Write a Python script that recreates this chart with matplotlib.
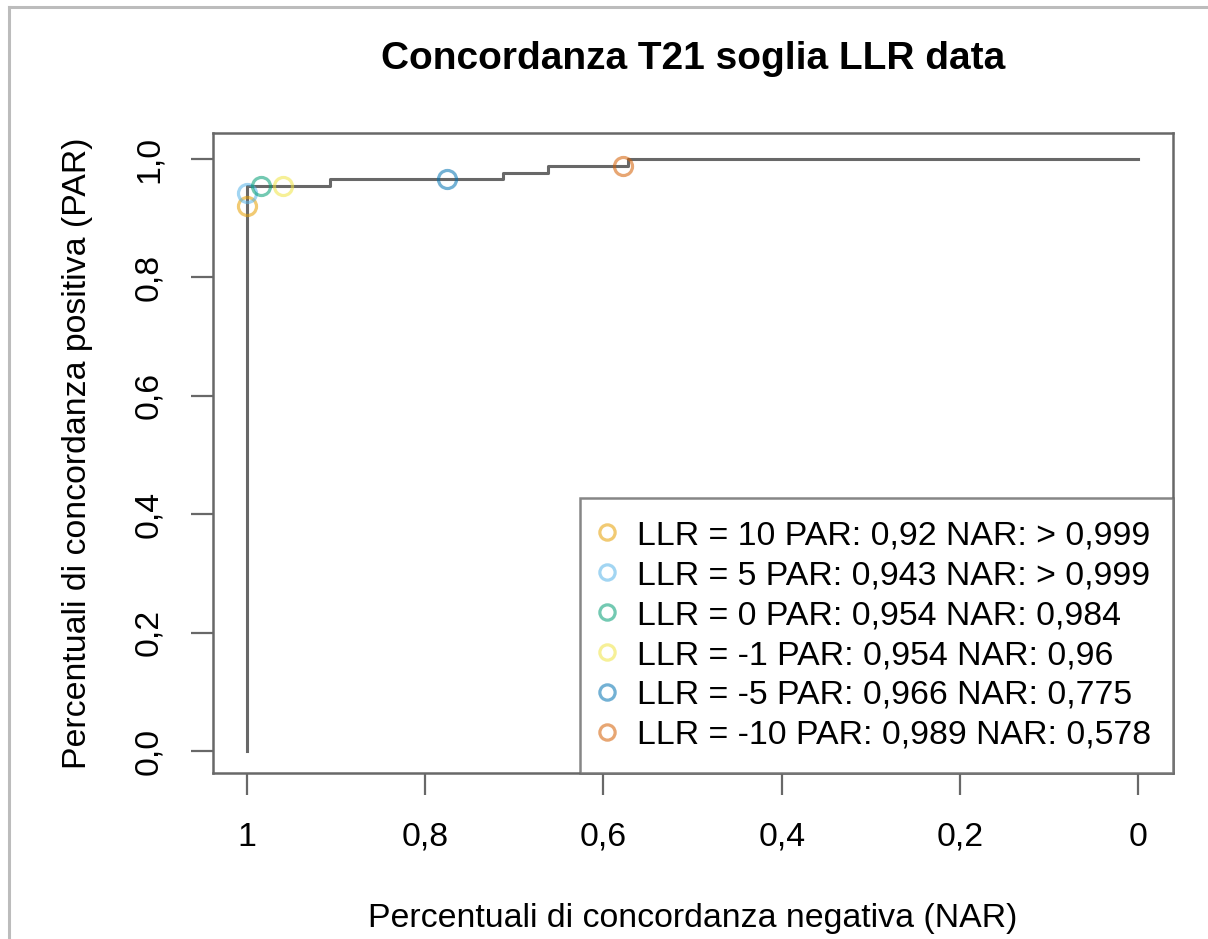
import numpy as np
import matplotlib
matplotlib.use("Agg")
import matplotlib.pyplot as plt
from matplotlib.lines import Line2D

plt.rcParams['font.family'] = ['Liberation Sans', 'DejaVu Sans']

# step curve (NAR on x, PAR on y)
curve_nar = [1.0, 1.0, 0.907, 0.713, 0.662, 0.572, 0.0]
curve_par = [0.0, 0.954, 0.966, 0.977, 0.989, 1.0, 1.0]

# threshold points
llr = [10, 5, 0, -1, -5, -10]
par = [0.92, 0.943, 0.954, 0.954, 0.966, 0.989]
nar = [0.9995, 0.9995, 0.984, 0.96, 0.775, 0.578]
nar_txt = ["> 0,999", "> 0,999", "0,984", "0,96", "0,775", "0,578"]
par_txt = ["0,92", "0,943", "0,954", "0,954", "0,966", "0,989"]
colors = ["#E69F00", "#56B4E9", "#009E73", "#F0E442", "#0072B2", "#D55E00"]

xticks = [1, 0.8, 0.6, 0.4, 0.2, 0]
xtick_labels = ["1", "0,8", "0,6", "0,4", "0,2", "0"]
yticks = [0, 0.2, 0.4, 0.6, 0.8, 1.0]
ytick_labels = ["0,0", "0,2", "0,4", "0,6", "0,8", "1,0"]

W, H = 1208, 939
fig = plt.figure(figsize=(W / 100, H / 100), dpi=100)
ax = fig.add_axes([213 / W, 1 - 773 / H, (1173 - 213) / W, (773 - 133) / H])

gray = "#686868"
ax.step(curve_nar, curve_par, where="post", color=gray, lw=2.2, zorder=2)

handles = []
for i in range(len(llr)):
    ax.plot(nar[i], par[i], "o", mfc="none", mec=colors[i], alpha=0.55,
            ms=13, mew=2.3, zorder=3)
    handles.append(Line2D([], [], ls="none", marker="o", mfc="none",
                          mec=colors[i], alpha=0.55, ms=11, mew=2.3,
                          label="LLR = %d PAR: %s NAR: %s" % (llr[i], par_txt[i], nar_txt[i])))

ax.set_xlim(1.038, -0.039)
ax.set_ylim(-0.037, 1.044)
ax.set_xticks(xticks)
ax.set_xticklabels(xtick_labels)
ax.set_yticks(yticks)
ax.set_yticklabels(ytick_labels, rotation=90, va="center")
fs = 24.4
ax.tick_params(length=16, width=1.6, color=gray, labelsize=fs, pad=19)

for s in ax.spines.values():
    s.set_color(gray)
    s.set_linewidth(1.8)

ax.set_title("Concordanza T21 soglia LLR data", fontsize=28, fontweight="bold", pad=46)
ax.set_xlabel("Percentuali di concordanza negativa (NAR)", fontsize=fs, labelpad=36)
ax.set_ylabel("Percentuali di concordanza positiva (PAR)", fontsize=fs, labelpad=29)

leg = ax.legend(handles=handles, loc="lower right", borderaxespad=0, fontsize=fs,
                fancybox=False, frameon=True, handlelength=0.3, handletextpad=0.72,
                labelspacing=0.265, borderpad=0.65)
leg.get_frame().set_edgecolor(gray)
leg.get_frame().set_linewidth(1.8)

# screenshot border (top and left)
fig.add_artist(Line2D([9 / W, 1], [1 - 7 / H, 1 - 7 / H], color="#bcbcbc", lw=2.2))
fig.add_artist(Line2D([9 / W, 9 / W], [0, 1 - 7 / H], color="#bcbcbc", lw=2.2))

fig.savefig("out.png", dpi=100)
